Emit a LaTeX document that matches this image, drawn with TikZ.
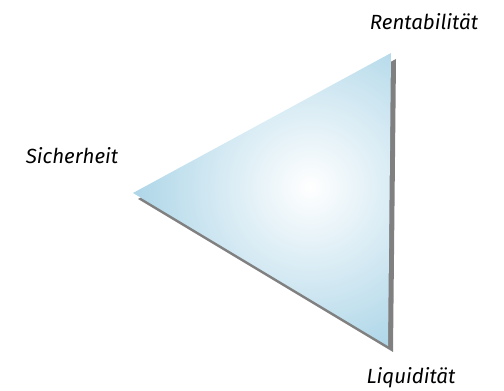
\documentclass[tikz,border=0pt]{standalone}
\usepackage{fontspec}
\setmainfont{Fira Sans}
\definecolor{triblue}{HTML}{9CCDE3}
\definecolor{shadowgray}{HTML}{6A6A6A}
\tikzset{
  lbl/.style={font=\itshape\fontsize{20.5}{24}\selectfont, text=black, inner sep=0pt},
}
\begin{document}
\begin{tikzpicture}[x=1pt,y=1pt]
\useasboundingbox (0,0) rectangle (504,391);
% vertices (y = 391 - image y)
\coordinate (L) at (133,198);
\coordinate (T) at (391,338);
\coordinate (B) at (388,45);
% shadow
\fill[shadowgray, opacity=0.85] ([shift={(5,-6)}]L) -- ([shift={(5,-6)}]T) -- ([shift={(5,-6)}]B) -- cycle;
% triangle with radial gradient
\begin{scope}
  \clip (L) -- (T) -- (B) -- cycle;
  \shade[inner color=white, outer color=triblue] (310,204) circle (215);
\end{scope}
% labels
\node[lbl] (ren) at (424,369) {Rentabilität};
\node[lbl] (sic) at (72,235) {Sicherheit};
\node[lbl] (liq) at (411,13) {Liquidität};
\end{tikzpicture}
\end{document}
